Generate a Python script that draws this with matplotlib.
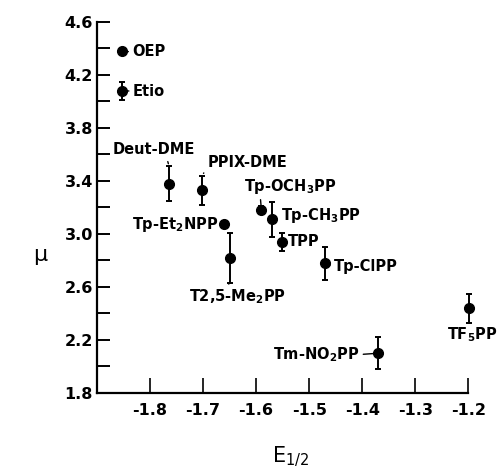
import numpy as np
import matplotlib.pyplot as plt

plt.rcParams['font.family'] = ['DejaVu Sans']
plt.rcParams['mathtext.default'] = 'bf'
plt.rcParams['axes.unicode_minus'] = False

# half-wave potential (V) vs. mu
names = ['OEP', 'Etio', 'Deut-DME', 'PPIX-DME', 'Tp-OCH$_3$PP', 'Tp-CH$_3$PP',
         'TPP', 'Tp-ClPP', 'Tp-Et$_2$NPP', 'T2,5-Me$_2$PP', 'Tm-NO$_2$PP', 'TF$_5$PP']
e_half = [-1.853, -1.853, -1.764, -1.702, -1.590, -1.570,
          -1.551, -1.470, -1.661, -1.649, -1.370, -1.198]
mu = [4.38, 4.08, 3.38, 3.33, 3.18, 3.11,
      2.94, 2.78, 3.075, 2.82, 2.10, 2.44]
mu_err = [0.02, 0.07, 0.13, 0.11, 0.03, 0.135,
          0.07, 0.125, 0.02, 0.19, 0.12, 0.11]

xticks = [-1.8, -1.7, -1.6, -1.5, -1.4, -1.3, -1.2]
yticks = [1.8, 2.2, 2.6, 3.0, 3.4, 3.8, 4.2, 4.6]

# label layout: text position, alignment, leader attach (+1 bar top, 0 point, -1 bar bottom),
# and where on the text box the leader starts
label_xy = [(-1.833, 4.374), (-1.832, 4.079), (-1.792, 3.634), (-1.692, 3.536),
            (-1.622, 3.362), (-1.554, 3.143), (-1.541, 2.947), (-1.453, 2.751),
            (-1.671, 3.075), (-1.726, 2.525), (-1.569, 2.09), (-1.240, 2.238)]
label_ha = ['left', 'left', 'center', 'left', 'left', 'left',
            'left', 'left', 'right', 'left', 'left', 'left']
attach = [0, 0, 1, 1, 0, 0, 0, 0, 0, -1, 0, -1]
relpos = [(0, 0.5), (0, 0.5), (0.65, 0), (0, 0.2), (0.17, 0), (0, 0.5),
          (0, 0.5), (0, 0.5), (1, 0.5), (0.35, 1), (1, 0.5), (0.35, 1)]

fig = plt.figure(figsize=(5.01, 4.76), dpi=100)
ax = fig.add_axes([0.1936, 0.1744, 0.7411, 0.7794])

ax.errorbar(e_half, mu, yerr=mu_err, fmt='o', color='black', ms=7,
            elinewidth=1.4, capsize=2.5, capthick=1.4, clip_on=False, zorder=3)

for i, name in enumerate(names):
    tx, ty = label_xy[i]
    px = e_half[i]
    py = mu[i] + attach[i] * mu_err[i]
    ax.annotate(name, xy=(px, py), xytext=(tx, ty), ha=label_ha[i], va='center',
                fontsize=10.5, fontweight='bold', annotation_clip=False,
                arrowprops=dict(arrowstyle='-', lw=1.0, color='black',
                                shrinkA=1, shrinkB=2, relpos=relpos[i]))

ax.set_xlim(-1.9, -1.2)
ax.set_ylim(1.8, 4.6)
ax.set_xticks(xticks)
ax.set_xticklabels([f'{t:.1f}' for t in xticks])
ax.set_yticks(yticks)
ax.set_yticklabels([f'{t:.1f}' for t in yticks])
ax.set_yticks(np.arange(2.0, 4.6, 0.4), minor=True)

ax.spines['top'].set_visible(False)
ax.spines['right'].set_visible(False)
ax.spines['left'].set_linewidth(1.6)
ax.spines['bottom'].set_linewidth(1.6)

ax.tick_params(axis='y', which='both', direction='in', length=9, width=1.4,
               labelsize=11.5, pad=3)
ax.tick_params(axis='x', which='both', direction='in', length=11, width=1.2,
               labelsize=11.5, pad=7)
for lab in ax.get_xticklabels() + ax.get_yticklabels():
    lab.set_fontweight('bold')

ax.set_ylabel('μ', rotation=0, fontsize=16)
ax.yaxis.set_label_coords(-0.153, 0.345)
ax.set_xlabel('E$_{\\mathregular{1/2}}$', fontsize=15)
ax.xaxis.set_label_coords(0.52, -0.14)

fig.savefig('out.png', dpi=100)
